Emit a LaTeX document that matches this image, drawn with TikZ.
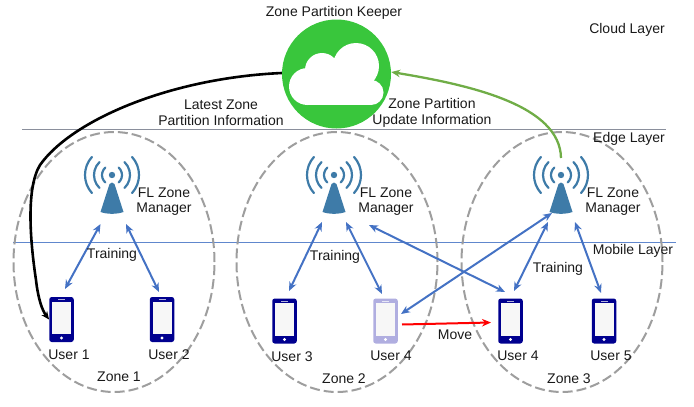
\documentclass[tikz,border=0pt]{standalone}
\usepackage{fontspec}
\setmainfont{Liberation Sans}
\usetikzlibrary{arrows.meta,shapes.geometric}
\definecolor{phoneblue}{HTML}{00008F}
\definecolor{phonepale}{HTML}{B0AEE0}
\definecolor{towerblue}{HTML}{3E7BA8}
\definecolor{linkblue}{HTML}{4472C4}
\definecolor{cloudgreen}{HTML}{39C63C}
\definecolor{arrowgreen}{HTML}{70AD47}
\definecolor{edgeline}{HTML}{8A8F9C}
\tikzset{
  lbl/.style={font=\fontsize{14}{15.6}\selectfont,align=center,inner sep=0pt,text=black!90},
  zone/.style={ellipse,draw=black!38,dash pattern=on 10pt off 4pt,line width=2pt,minimum width=201pt,minimum height=260pt,inner sep=0pt},
  link/.style={draw=linkblue,line width=2pt,{Stealth[length=9pt,width=7.5pt]}-{Stealth[length=9pt,width=7.5pt]}},
  phonebody/.style={minimum width=24.5pt,minimum height=45pt,inner sep=0pt,rounded corners=2.5pt,fill=#1},
  layerline/.style={line width=1pt},
}
\newcommand{\phonepic}[4]{% name, x, y-centre, colour
  \node[phonebody=#4] (#1) at (#2,#3) {};
  \fill[black!3] (#2-9.5,#3-18) rectangle (#2+9.5,#3+14.5);
  \fill[white] (#2,#3+18.5) circle (1.7);
  \draw[white!70!#4,line width=.6pt] (#2-3.5,#3-20) -- (#2+3.5,#3-20);
}
\newcommand{\towerpic}[3]{% name, x, y of the beacon dot
  \node[circle,fill=towerblue,minimum size=6.4pt,inner sep=0pt] (#1) at (#2,#3) {};
  \fill[towerblue] (#2-2.5,#3+9) .. controls (#2-1.5,#3+7) and (#2+1.5,#3+7) .. (#2+2.5,#3+9)
    -- (#2+11.5,#3+37) .. controls (#2+4,#3+39.5) and (#2-4,#3+39.5) .. (#2-11.5,#3+37) -- cycle;
  \foreach \rr/\aa in {10/48,18/46,27/42} {
    \draw[towerblue,line width=2.2pt,line cap=round] (#2,#3) ++(180-\aa:\rr) arc[start angle=180-\aa,end angle=180+\aa,radius=\rr];
    \draw[towerblue,line width=2.2pt,line cap=round] (#2,#3) ++(\aa:\rr) arc[start angle=\aa,end angle=-\aa,radius=\rr];
  }
}
\begin{document}
\begin{tikzpicture}[x=1pt,y=-1pt]
\useasboundingbox (0,0) rectangle (694,407);
% layers
\coordinate (l1a) at (22,129); \coordinate (l1b) at (666,129);
\coordinate (l2a) at (13,242); \coordinate (l2b) at (676,242);
\draw[layerline,draw=edgeline] (l1a) -- (l1b);
\draw[layerline,draw=linkblue!85] (l2a) -- (l2b);
% zones
\node[zone] (z1) at (114,262) {};
\node[zone] (z2) at (337,262) {};
\node[zone] (z3) at (562,262) {};
% cloud
\node[circle,fill=cloudgreen,minimum size=109pt,inner sep=0pt] (keeper) at (336.5,74) {};
\fill[white] (307.5,86.5) circle (18.5) (322,70) circle (17) (356,66) circle (23) (371,92.5) circle (12.5);
\fill[white] (307.5,85) rectangle (371,105);
\fill[white] (325,68) rectangle (365,95);
% towers
\towerpic{t1}{112}{175}
\towerpic{t2}{334}{175}
\towerpic{t3}{561}{175}
\coordinate (t1l) at (100.5,224); \coordinate (t1r) at (126,224);
\coordinate (t2l) at (322,222);   \coordinate (t2r) at (346,222);
\coordinate (t2x) at (369,225);
\coordinate (t3l) at (548,222);   \coordinate (t3r) at (575,222);
\coordinate (t3x) at (552,213);
% phones
\phonepic{u1}{61.5}{319.5}{phoneblue}
\phonepic{u2}{162}{319.5}{phoneblue}
\phonepic{u3}{284.5}{321}{phoneblue}
\phonepic{u4}{385.5}{321}{phonepale}
\phonepic{u4b}{510.5}{321}{phoneblue}
\phonepic{u5}{604}{321}{phoneblue}
% links
\coordinate (u1t) at (65,289); \coordinate (u2t) at (159,292);
\coordinate (u3t) at (289,291); \coordinate (u4t) at (382,294);
\coordinate (u4x) at (401,314); \coordinate (u4bx) at (505,292);
\coordinate (u4bt) at (514,291); \coordinate (u5t) at (601,293);
\draw[link] (t1l) -- (u1t);
\draw[link] (t1r) -- (u2t);
\draw[link] (t2l) -- (u3t);
\draw[link] (t2r) -- (u4t);
\draw[link] (t2x) -- (u4bx);
\draw[link] (t3x) -- (u4x);
\draw[link] (t3l) -- (u4bt);
\draw[link] (t3r) -- (u5t);
% move
\coordinate (mv) at (402,324.5);
\coordinate (mvend) at (491,322.5);
\draw[red,line width=2pt,-{Stealth[length=9pt,width=7.5pt]}] (mv) -- (mvend);
% cloud connectors
\draw[black,line width=2.6pt,-{Stealth[length=8pt,width=7pt]}] (keeper.west |- 0,73)
  .. controls (170,78) and (72,120) .. (40,165)
  .. controls (26,188) and (30,240) .. (36,280)
  .. controls (38,298) and (42,310) .. (u1.west);
\coordinate (t3top) at (561,158);
\draw[arrowgreen,line width=2.3pt,-{Stealth[length=9pt,width=7.5pt]}] (t3top)
  .. controls (560,105) and (470,85) .. (keeper.east |- 0,72);
% labels
\node[lbl] (lk) at (334,13) {Zone Partition Keeper};
\node[lbl] (lc) at (627,30) {Cloud Layer};
\node[lbl] (le) at (629,139) {Edge Layer};
\node[lbl] (lm) at (633,251) {Mobile Layer};
\node[lbl] (li1) at (221,113) {Latest Zone\\Partition Information};
\node[lbl] (li2) at (432,113) {Zone Partition\\Update Information};
\node[lbl] (m1) at (164,201.5) {FL Zone\\Manager};
\node[lbl] (m2) at (386,201.5) {FL Zone\\Manager};
\node[lbl] (m3) at (613,201.5) {FL Zone\\Manager};
\node[lbl] (tr1) at (112,255) {Training};
\node[lbl] (tr2) at (335,257) {Training};
\node[lbl] (tr3) at (558,269) {Training};
\node[lbl] (n1) at (69,355) {User 1};
\node[lbl] (n2) at (169,355) {User 2};
\node[lbl] (n3) at (292,357) {User 3};
\node[lbl] (n4) at (391,356) {User 4};
\node[lbl] (n4b) at (518,356) {User 4};
\node[lbl] (n5) at (611,356) {User 5};
\node[lbl] (zl1) at (119,377) {Zone 1};
\node[lbl] (zl2) at (344,379) {Zone 2};
\node[lbl] (zl3) at (569,379) {Zone 3};
\node[lbl] (mvl) at (455,335) {Move};
\end{tikzpicture}
\end{document}
